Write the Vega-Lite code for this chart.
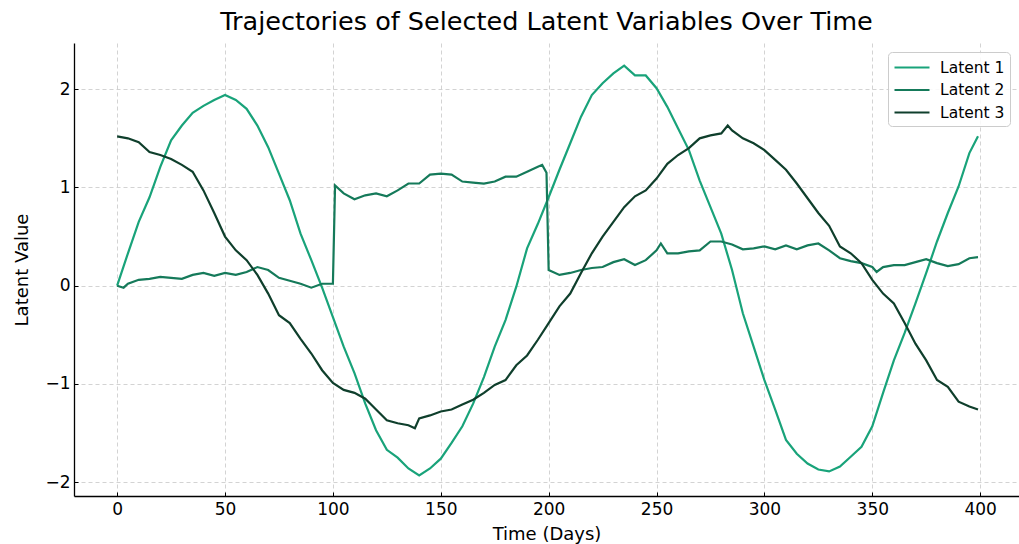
{
  "$schema": "https://vega.github.io/schema/vega-lite/v6.json",
  "width": 945,
  "height": 453,
  "autosize": "none",
  "padding": {"left": 74, "top": 43, "right": 0, "bottom": 48},
  "background": "white",
  "config": {
    "view": {"stroke": null},
    "font": "DejaVu Sans"
  },
  "title": {
    "text": "Trajectories of Selected Latent Variables Over Time",
    "fontSize": 25.5,
    "fontWeight": "normal",
    "font": "DejaVu Sans",
    "color": "#000000",
    "anchor": "middle",
    "baseline": "alphabetic",
    "offset": 10,
    "dy": 22
  },
  "data": {
    "values": [
      {"day": 0, "value": 0.0, "series": "Latent 1"},
      {"day": 5, "value": 0.33, "series": "Latent 1"},
      {"day": 10, "value": 0.65, "series": "Latent 1"},
      {"day": 15, "value": 0.9, "series": "Latent 1"},
      {"day": 20, "value": 1.21, "series": "Latent 1"},
      {"day": 25, "value": 1.48, "series": "Latent 1"},
      {"day": 30, "value": 1.63, "series": "Latent 1"},
      {"day": 35, "value": 1.76, "series": "Latent 1"},
      {"day": 40, "value": 1.83, "series": "Latent 1"},
      {"day": 45, "value": 1.89, "series": "Latent 1"},
      {"day": 50, "value": 1.94, "series": "Latent 1"},
      {"day": 55, "value": 1.89, "series": "Latent 1"},
      {"day": 60, "value": 1.8, "series": "Latent 1"},
      {"day": 65, "value": 1.63, "series": "Latent 1"},
      {"day": 70, "value": 1.41, "series": "Latent 1"},
      {"day": 75, "value": 1.14, "series": "Latent 1"},
      {"day": 80, "value": 0.87, "series": "Latent 1"},
      {"day": 85, "value": 0.53, "series": "Latent 1"},
      {"day": 90, "value": 0.26, "series": "Latent 1"},
      {"day": 95, "value": -0.02, "series": "Latent 1"},
      {"day": 100, "value": -0.32, "series": "Latent 1"},
      {"day": 105, "value": -0.62, "series": "Latent 1"},
      {"day": 110, "value": -0.89, "series": "Latent 1"},
      {"day": 115, "value": -1.2, "series": "Latent 1"},
      {"day": 120, "value": -1.47, "series": "Latent 1"},
      {"day": 125, "value": -1.67, "series": "Latent 1"},
      {"day": 130, "value": -1.75, "series": "Latent 1"},
      {"day": 135, "value": -1.86, "series": "Latent 1"},
      {"day": 140, "value": -1.93, "series": "Latent 1"},
      {"day": 145, "value": -1.86, "series": "Latent 1"},
      {"day": 150, "value": -1.76, "series": "Latent 1"},
      {"day": 155, "value": -1.6, "series": "Latent 1"},
      {"day": 160, "value": -1.43, "series": "Latent 1"},
      {"day": 165, "value": -1.2, "series": "Latent 1"},
      {"day": 170, "value": -0.93, "series": "Latent 1"},
      {"day": 175, "value": -0.62, "series": "Latent 1"},
      {"day": 180, "value": -0.35, "series": "Latent 1"},
      {"day": 185, "value": -0.01, "series": "Latent 1"},
      {"day": 190, "value": 0.38, "series": "Latent 1"},
      {"day": 195, "value": 0.63, "series": "Latent 1"},
      {"day": 200, "value": 0.9, "series": "Latent 1"},
      {"day": 205, "value": 1.18, "series": "Latent 1"},
      {"day": 210, "value": 1.45, "series": "Latent 1"},
      {"day": 215, "value": 1.72, "series": "Latent 1"},
      {"day": 220, "value": 1.94, "series": "Latent 1"},
      {"day": 225, "value": 2.06, "series": "Latent 1"},
      {"day": 230, "value": 2.16, "series": "Latent 1"},
      {"day": 235, "value": 2.24, "series": "Latent 1"},
      {"day": 240, "value": 2.14, "series": "Latent 1"},
      {"day": 245, "value": 2.14, "series": "Latent 1"},
      {"day": 250, "value": 2.01, "series": "Latent 1"},
      {"day": 255, "value": 1.82, "series": "Latent 1"},
      {"day": 260, "value": 1.6, "series": "Latent 1"},
      {"day": 265, "value": 1.38, "series": "Latent 1"},
      {"day": 270, "value": 1.07, "series": "Latent 1"},
      {"day": 275, "value": 0.8, "series": "Latent 1"},
      {"day": 280, "value": 0.53, "series": "Latent 1"},
      {"day": 285, "value": 0.16, "series": "Latent 1"},
      {"day": 290, "value": -0.28, "series": "Latent 1"},
      {"day": 295, "value": -0.62, "series": "Latent 1"},
      {"day": 300, "value": -0.96, "series": "Latent 1"},
      {"day": 305, "value": -1.26, "series": "Latent 1"},
      {"day": 310, "value": -1.57, "series": "Latent 1"},
      {"day": 315, "value": -1.71, "series": "Latent 1"},
      {"day": 320, "value": -1.81, "series": "Latent 1"},
      {"day": 325, "value": -1.87, "series": "Latent 1"},
      {"day": 330, "value": -1.89, "series": "Latent 1"},
      {"day": 335, "value": -1.84, "series": "Latent 1"},
      {"day": 340, "value": -1.74, "series": "Latent 1"},
      {"day": 345, "value": -1.64, "series": "Latent 1"},
      {"day": 350, "value": -1.43, "series": "Latent 1"},
      {"day": 355, "value": -1.09, "series": "Latent 1"},
      {"day": 360, "value": -0.76, "series": "Latent 1"},
      {"day": 365, "value": -0.48, "series": "Latent 1"},
      {"day": 370, "value": -0.18, "series": "Latent 1"},
      {"day": 375, "value": 0.13, "series": "Latent 1"},
      {"day": 380, "value": 0.45, "series": "Latent 1"},
      {"day": 385, "value": 0.74, "series": "Latent 1"},
      {"day": 390, "value": 1.01, "series": "Latent 1"},
      {"day": 395, "value": 1.35, "series": "Latent 1"},
      {"day": 399, "value": 1.52, "series": "Latent 1"},

      {"day": 0, "value": 0.0, "series": "Latent 2"},
      {"day": 3, "value": -0.02, "series": "Latent 2"},
      {"day": 5, "value": 0.02, "series": "Latent 2"},
      {"day": 10, "value": 0.06, "series": "Latent 2"},
      {"day": 15, "value": 0.07, "series": "Latent 2"},
      {"day": 20, "value": 0.09, "series": "Latent 2"},
      {"day": 25, "value": 0.08, "series": "Latent 2"},
      {"day": 30, "value": 0.07, "series": "Latent 2"},
      {"day": 35, "value": 0.11, "series": "Latent 2"},
      {"day": 40, "value": 0.13, "series": "Latent 2"},
      {"day": 45, "value": 0.1, "series": "Latent 2"},
      {"day": 50, "value": 0.13, "series": "Latent 2"},
      {"day": 55, "value": 0.11, "series": "Latent 2"},
      {"day": 60, "value": 0.14, "series": "Latent 2"},
      {"day": 65, "value": 0.19, "series": "Latent 2"},
      {"day": 70, "value": 0.16, "series": "Latent 2"},
      {"day": 75, "value": 0.08, "series": "Latent 2"},
      {"day": 80, "value": 0.05, "series": "Latent 2"},
      {"day": 85, "value": 0.02, "series": "Latent 2"},
      {"day": 90, "value": -0.02, "series": "Latent 2"},
      {"day": 95, "value": 0.02, "series": "Latent 2"},
      {"day": 100, "value": 0.02, "series": "Latent 2"},
      {"day": 101, "value": 1.02, "series": "Latent 2"},
      {"day": 105, "value": 0.94, "series": "Latent 2"},
      {"day": 110, "value": 0.88, "series": "Latent 2"},
      {"day": 115, "value": 0.92, "series": "Latent 2"},
      {"day": 120, "value": 0.94, "series": "Latent 2"},
      {"day": 125, "value": 0.91, "series": "Latent 2"},
      {"day": 130, "value": 0.97, "series": "Latent 2"},
      {"day": 135, "value": 1.04, "series": "Latent 2"},
      {"day": 140, "value": 1.04, "series": "Latent 2"},
      {"day": 145, "value": 1.13, "series": "Latent 2"},
      {"day": 150, "value": 1.14, "series": "Latent 2"},
      {"day": 155, "value": 1.13, "series": "Latent 2"},
      {"day": 160, "value": 1.06, "series": "Latent 2"},
      {"day": 165, "value": 1.05, "series": "Latent 2"},
      {"day": 170, "value": 1.04, "series": "Latent 2"},
      {"day": 175, "value": 1.06, "series": "Latent 2"},
      {"day": 180, "value": 1.11, "series": "Latent 2"},
      {"day": 185, "value": 1.11, "series": "Latent 2"},
      {"day": 190, "value": 1.16, "series": "Latent 2"},
      {"day": 195, "value": 1.21, "series": "Latent 2"},
      {"day": 197, "value": 1.23, "series": "Latent 2"},
      {"day": 199, "value": 1.15, "series": "Latent 2"},
      {"day": 200, "value": 0.16, "series": "Latent 2"},
      {"day": 205, "value": 0.11, "series": "Latent 2"},
      {"day": 210, "value": 0.13, "series": "Latent 2"},
      {"day": 215, "value": 0.16, "series": "Latent 2"},
      {"day": 220, "value": 0.18, "series": "Latent 2"},
      {"day": 225, "value": 0.19, "series": "Latent 2"},
      {"day": 230, "value": 0.24, "series": "Latent 2"},
      {"day": 235, "value": 0.27, "series": "Latent 2"},
      {"day": 240, "value": 0.21, "series": "Latent 2"},
      {"day": 245, "value": 0.26, "series": "Latent 2"},
      {"day": 250, "value": 0.36, "series": "Latent 2"},
      {"day": 252, "value": 0.43, "series": "Latent 2"},
      {"day": 255, "value": 0.33, "series": "Latent 2"},
      {"day": 260, "value": 0.33, "series": "Latent 2"},
      {"day": 265, "value": 0.35, "series": "Latent 2"},
      {"day": 270, "value": 0.36, "series": "Latent 2"},
      {"day": 275, "value": 0.45, "series": "Latent 2"},
      {"day": 280, "value": 0.45, "series": "Latent 2"},
      {"day": 285, "value": 0.42, "series": "Latent 2"},
      {"day": 290, "value": 0.37, "series": "Latent 2"},
      {"day": 295, "value": 0.38, "series": "Latent 2"},
      {"day": 300, "value": 0.4, "series": "Latent 2"},
      {"day": 305, "value": 0.37, "series": "Latent 2"},
      {"day": 310, "value": 0.41, "series": "Latent 2"},
      {"day": 315, "value": 0.37, "series": "Latent 2"},
      {"day": 320, "value": 0.41, "series": "Latent 2"},
      {"day": 325, "value": 0.43, "series": "Latent 2"},
      {"day": 330, "value": 0.36, "series": "Latent 2"},
      {"day": 335, "value": 0.28, "series": "Latent 2"},
      {"day": 340, "value": 0.25, "series": "Latent 2"},
      {"day": 345, "value": 0.23, "series": "Latent 2"},
      {"day": 350, "value": 0.19, "series": "Latent 2"},
      {"day": 352, "value": 0.14, "series": "Latent 2"},
      {"day": 355, "value": 0.19, "series": "Latent 2"},
      {"day": 360, "value": 0.21, "series": "Latent 2"},
      {"day": 365, "value": 0.21, "series": "Latent 2"},
      {"day": 370, "value": 0.24, "series": "Latent 2"},
      {"day": 375, "value": 0.27, "series": "Latent 2"},
      {"day": 380, "value": 0.23, "series": "Latent 2"},
      {"day": 385, "value": 0.2, "series": "Latent 2"},
      {"day": 390, "value": 0.22, "series": "Latent 2"},
      {"day": 395, "value": 0.28, "series": "Latent 2"},
      {"day": 399, "value": 0.29, "series": "Latent 2"},

      {"day": 0, "value": 1.52, "series": "Latent 3"},
      {"day": 5, "value": 1.5, "series": "Latent 3"},
      {"day": 10, "value": 1.46, "series": "Latent 3"},
      {"day": 15, "value": 1.36, "series": "Latent 3"},
      {"day": 20, "value": 1.33, "series": "Latent 3"},
      {"day": 25, "value": 1.29, "series": "Latent 3"},
      {"day": 30, "value": 1.23, "series": "Latent 3"},
      {"day": 35, "value": 1.16, "series": "Latent 3"},
      {"day": 40, "value": 0.97, "series": "Latent 3"},
      {"day": 45, "value": 0.74, "series": "Latent 3"},
      {"day": 50, "value": 0.5, "series": "Latent 3"},
      {"day": 55, "value": 0.36, "series": "Latent 3"},
      {"day": 60, "value": 0.26, "series": "Latent 3"},
      {"day": 65, "value": 0.11, "series": "Latent 3"},
      {"day": 70, "value": -0.08, "series": "Latent 3"},
      {"day": 75, "value": -0.3, "series": "Latent 3"},
      {"day": 80, "value": -0.38, "series": "Latent 3"},
      {"day": 85, "value": -0.54, "series": "Latent 3"},
      {"day": 90, "value": -0.69, "series": "Latent 3"},
      {"day": 95, "value": -0.86, "series": "Latent 3"},
      {"day": 100, "value": -0.99, "series": "Latent 3"},
      {"day": 105, "value": -1.06, "series": "Latent 3"},
      {"day": 110, "value": -1.09, "series": "Latent 3"},
      {"day": 115, "value": -1.15, "series": "Latent 3"},
      {"day": 120, "value": -1.26, "series": "Latent 3"},
      {"day": 125, "value": -1.37, "series": "Latent 3"},
      {"day": 130, "value": -1.4, "series": "Latent 3"},
      {"day": 135, "value": -1.42, "series": "Latent 3"},
      {"day": 138, "value": -1.45, "series": "Latent 3"},
      {"day": 140, "value": -1.35, "series": "Latent 3"},
      {"day": 145, "value": -1.32, "series": "Latent 3"},
      {"day": 150, "value": -1.28, "series": "Latent 3"},
      {"day": 155, "value": -1.26, "series": "Latent 3"},
      {"day": 160, "value": -1.21, "series": "Latent 3"},
      {"day": 165, "value": -1.16, "series": "Latent 3"},
      {"day": 170, "value": -1.09, "series": "Latent 3"},
      {"day": 175, "value": -1.01, "series": "Latent 3"},
      {"day": 180, "value": -0.96, "series": "Latent 3"},
      {"day": 185, "value": -0.81, "series": "Latent 3"},
      {"day": 190, "value": -0.71, "series": "Latent 3"},
      {"day": 195, "value": -0.55, "series": "Latent 3"},
      {"day": 200, "value": -0.38, "series": "Latent 3"},
      {"day": 205, "value": -0.21, "series": "Latent 3"},
      {"day": 210, "value": -0.08, "series": "Latent 3"},
      {"day": 215, "value": 0.13, "series": "Latent 3"},
      {"day": 220, "value": 0.33, "series": "Latent 3"},
      {"day": 225, "value": 0.5, "series": "Latent 3"},
      {"day": 230, "value": 0.65, "series": "Latent 3"},
      {"day": 235, "value": 0.8, "series": "Latent 3"},
      {"day": 240, "value": 0.91, "series": "Latent 3"},
      {"day": 245, "value": 0.97, "series": "Latent 3"},
      {"day": 250, "value": 1.09, "series": "Latent 3"},
      {"day": 255, "value": 1.24, "series": "Latent 3"},
      {"day": 260, "value": 1.33, "series": "Latent 3"},
      {"day": 265, "value": 1.4, "series": "Latent 3"},
      {"day": 270, "value": 1.5, "series": "Latent 3"},
      {"day": 275, "value": 1.53, "series": "Latent 3"},
      {"day": 280, "value": 1.55, "series": "Latent 3"},
      {"day": 283, "value": 1.63, "series": "Latent 3"},
      {"day": 285, "value": 1.58, "series": "Latent 3"},
      {"day": 290, "value": 1.5, "series": "Latent 3"},
      {"day": 295, "value": 1.45, "series": "Latent 3"},
      {"day": 300, "value": 1.38, "series": "Latent 3"},
      {"day": 305, "value": 1.28, "series": "Latent 3"},
      {"day": 310, "value": 1.18, "series": "Latent 3"},
      {"day": 315, "value": 1.04, "series": "Latent 3"},
      {"day": 320, "value": 0.89, "series": "Latent 3"},
      {"day": 325, "value": 0.74, "series": "Latent 3"},
      {"day": 330, "value": 0.61, "series": "Latent 3"},
      {"day": 335, "value": 0.4, "series": "Latent 3"},
      {"day": 340, "value": 0.33, "series": "Latent 3"},
      {"day": 345, "value": 0.23, "series": "Latent 3"},
      {"day": 350, "value": 0.06, "series": "Latent 3"},
      {"day": 355, "value": -0.08, "series": "Latent 3"},
      {"day": 360, "value": -0.18, "series": "Latent 3"},
      {"day": 365, "value": -0.38, "series": "Latent 3"},
      {"day": 370, "value": -0.59, "series": "Latent 3"},
      {"day": 375, "value": -0.76, "series": "Latent 3"},
      {"day": 380, "value": -0.96, "series": "Latent 3"},
      {"day": 385, "value": -1.03, "series": "Latent 3"},
      {"day": 390, "value": -1.18, "series": "Latent 3"},
      {"day": 395, "value": -1.23, "series": "Latent 3"},
      {"day": 399, "value": -1.26, "series": "Latent 3"}
    ]
  },
  "mark": {"type": "line", "strokeWidth": 2.2, "clip": true},
  "encoding": {
    "x": {
      "field": "day",
      "type": "quantitative",
      "scale": {"domain": [-20, 418], "nice": false, "zero": false},
      "axis": {
        "title": "Time (Days)",
        "values": [0, 50, 100, 150, 200, 250, 300, 350, 400],
        "format": "d",
        "labelFont": "DejaVu Sans",
        "labelFontSize": 17,
        "labelColor": "#000000",
        "labelPadding": 9,
        "titleFont": "DejaVu Sans",
        "titleFontSize": 18,
        "titleFontWeight": "normal",
        "titleColor": "#000000",
        "titlePadding": 8,
        "domainColor": "#000000",
        "domainWidth": 1.3,
        "tickColor": "#000000",
        "tickSize": -4,
        "tickWidth": 1,
        "grid": true,
        "gridColor": "#c8c8c8",
        "gridDash": [4, 3],
        "gridWidth": 0.8
      }
    },
    "y": {
      "field": "value",
      "type": "quantitative",
      "scale": {"domain": [-2.14, 2.47], "nice": false, "zero": false},
      "axis": {
        "title": "Latent Value",
        "values": [-2, -1, 0, 1, 2],
        "format": "d",
        "labelFont": "DejaVu Sans",
        "labelFontSize": 17,
        "labelColor": "#000000",
        "labelPadding": 8,
        "titleFont": "DejaVu Sans",
        "titleFontSize": 18,
        "titleFontWeight": "normal",
        "titleColor": "#000000",
        "titlePadding": 13,
        "domainColor": "#000000",
        "domainWidth": 1.3,
        "tickColor": "#000000",
        "tickSize": -4,
        "tickWidth": 1,
        "grid": true,
        "gridColor": "#c8c8c8",
        "gridDash": [4, 3],
        "gridWidth": 0.8
      }
    },
    "color": {
      "field": "series",
      "type": "nominal",
      "scale": {
        "domain": ["Latent 1", "Latent 2", "Latent 3"],
        "range": ["#19a37a", "#157a5a", "#0f3f2c"]
      },
      "legend": {
        "title": null,
        "orient": "none",
        "legendX": 814,
        "legendY": 9,
        "padding": 5,
        "strokeColor": "#cccccc",
        "fillColor": "rgba(255,255,255,0.85)",
        "cornerRadius": 4,
        "symbolType": "M-1.944,0H1.944",
        "symbolSize": 324,
        "symbolStrokeWidth": 2.2,
        "symbolOffset": 8.5,
        "labelFont": "DejaVu Sans",
        "labelFontSize": 15.5,
        "labelColor": "#000000",
        "labelOffset": 17.5,
        "rowPadding": 3.5
      }
    }
  }
}
